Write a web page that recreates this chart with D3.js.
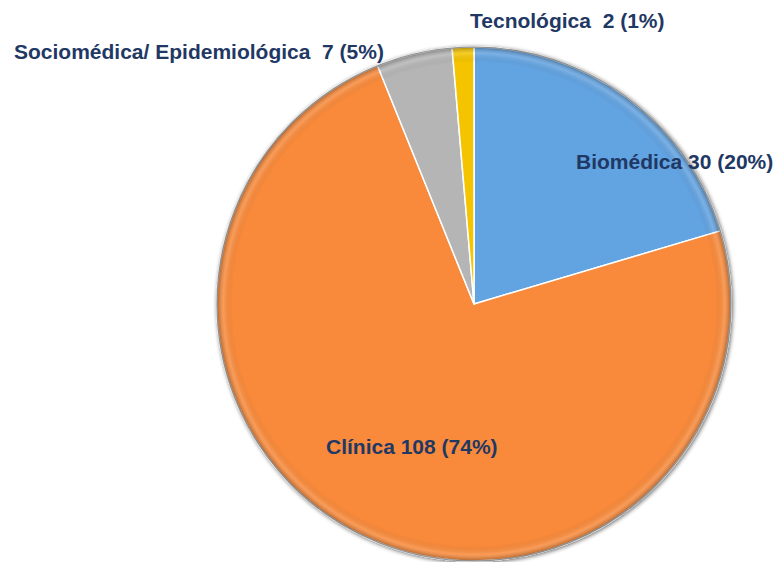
<!DOCTYPE html>
<html>
<head>
<meta charset="utf-8">
<script src="https://cdn.jsdelivr.net/npm/d3@7"></script>
<style>
  body { margin: 0; background: #fff; }
  text { font-family: "Liberation Sans", Arial, sans-serif; font-weight: bold; }
</style>
</head>
<body>
<div id="chart"></div>
<script>
// categories and values
const categories = ['Biomédica', 'Clínica', 'Sociomédica/ Epidemiológica', 'Tecnológica'];
const counts = [30, 108, 7, 2];
const percents = [20, 74, 5, 1];
const labels = ['Biomédica 30 (20%)', 'Clínica 108 (74%)', 'Sociomédica/ Epidemiológica  7 (5%)', 'Tecnológica  2 (1%)'];
const colors = ['#62a3e1', '#f98a3a', '#b5b5b5', '#f5c400'];

const width = 778;
const height = 562;
const cx = 474, cy = 304, radius = 257;

// label anchor points (left x, baseline y)
const labelPos = [[576, 169], [326, 454], [14, 59], [470, 28]];

const svg = d3.select('#chart')
  .append('svg')
  .attr('width', width)
  .attr('height', height);

const defs = svg.append('defs');

// soft shadow around the pie
const shadow = defs.append('filter')
  .attr('id', 'shadow')
  .attr('x', '-10%').attr('y', '-10%')
  .attr('width', '120%').attr('height', '120%');
shadow.append('feGaussianBlur').attr('in', 'SourceAlpha').attr('stdDeviation', 2).attr('result', 'blur');
shadow.append('feOffset').attr('in', 'blur').attr('dx', 1).attr('dy', 1).attr('result', 'off');
shadow.append('feComponentTransfer').attr('in', 'off').attr('result', 'soft')
  .append('feFuncA').attr('type', 'linear').attr('slope', 0.6);
const merge = shadow.append('feMerge');
merge.append('feMergeNode').attr('in', 'soft');
merge.append('feMergeNode').attr('in', 'SourceGraphic');

// bevel-ish rim shading, in the pie's own coordinates
const rim = defs.append('radialGradient')
  .attr('id', 'rim')
  .attr('gradientUnits', 'userSpaceOnUse')
  .attr('cx', 0).attr('cy', 0).attr('r', radius);
rim.append('stop').attr('offset', '0.94').attr('stop-color', '#000').attr('stop-opacity', 0);
rim.append('stop').attr('offset', '0.975').attr('stop-color', '#fff').attr('stop-opacity', 0.15);
rim.append('stop').attr('offset', '1').attr('stop-color', '#000').attr('stop-opacity', 0.3);

const pie = d3.pie()
  .value(d => d)
  .sort(null);

const arc = d3.arc()
  .innerRadius(0)
  .outerRadius(radius);

const arcs = pie(counts);

const g = svg.append('g')
  .attr('transform', `translate(${cx},${cy})`)
  .attr('filter', 'url(#shadow)');

g.selectAll('path.slice')
  .data(arcs)
  .enter()
  .append('path')
  .attr('class', 'slice')
  .attr('d', arc)
  .attr('fill', (d, i) => colors[i])
  .attr('stroke', '#fff')
  .attr('stroke-width', 1.5)
  .attr('stroke-linejoin', 'round');

// rim shading overlay
g.selectAll('path.rim')
  .data(arcs)
  .enter()
  .append('path')
  .attr('class', 'rim')
  .attr('d', arc)
  .attr('fill', 'url(#rim)')
  .attr('pointer-events', 'none');

// thin dark edge
g.append('circle')
  .attr('r', radius)
  .attr('fill', 'none')
  .attr('stroke', '#6b6b6b')
  .attr('stroke-width', 1.2)
  .attr('stroke-opacity', 0.7);

// labels
svg.selectAll('text.label')
  .data(labels)
  .enter()
  .append('text')
  .attr('class', 'label')
  .attr('x', (d, i) => labelPos[i][0])
  .attr('y', (d, i) => labelPos[i][1])
  .attr('fill', '#1f3864')
  .style('font-size', '21px')
  .style('white-space', 'pre')
  .attr('xml:space', 'preserve')
  .text(d => d);
</script>
</body>
</html>
